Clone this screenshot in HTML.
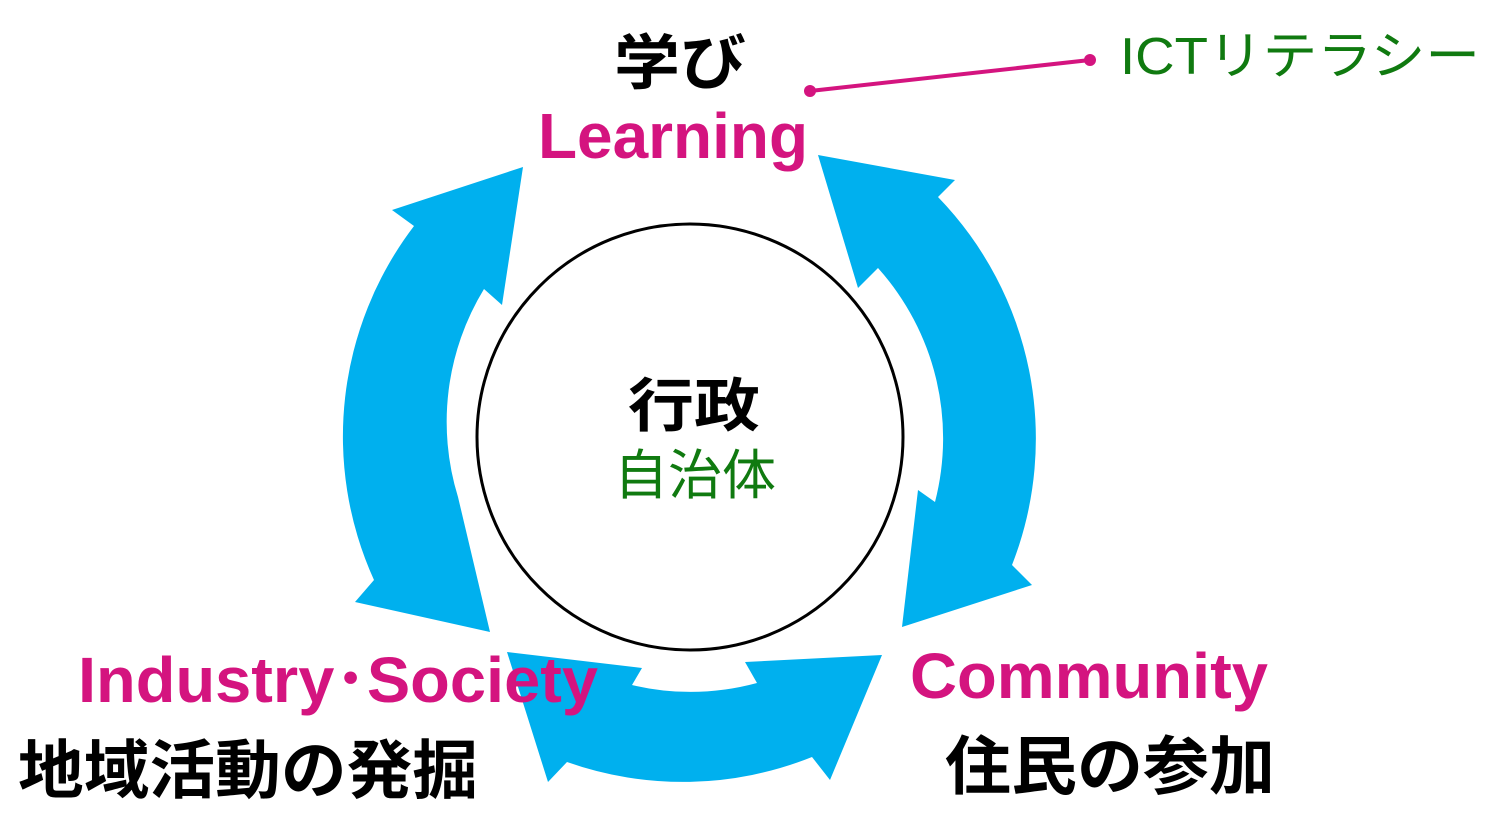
<!DOCTYPE html>
<html><head><meta charset="utf-8"><style>
html,body{margin:0;padding:0;background:#fff;}
svg{display:block;}
</style></head><body>
<svg width="1496" height="816" viewBox="0 0 1496 816" xmlns="http://www.w3.org/2000/svg">
<g fill="#00b0ee">
<path d="M523,167 L392,210 L414,226 A347,347 0 0 0 374,580 L355,602 L490,632 L458,497 A255,255 0 0 1 484,289 L502,305 Z"/>
<path d="M818,155 L955,180 L938,197 A347,347 0 0 1 1012,565 L1032,585 L902,627 L918,490 L935,502 A255,255 0 0 0 878,268 L858,288 Z"/>
<path d="M507,652 L642,668 L632,685 A255,255 0 0 0 757,683 L745,662 L882,655 L830,780 L812,757 A347,347 0 0 1 567,762 L548,782 Z"/>
</g>
<circle cx="690" cy="437" r="213" fill="#fff" stroke="#000" stroke-width="3"/>
<line x1="810" y1="91" x2="1090" y2="60" stroke="#d4147f" stroke-width="4"/>
<circle cx="810" cy="91" r="6" fill="#d4147f"/>
<circle cx="1090" cy="60" r="6" fill="#d4147f"/>
<g font-family="'Liberation Sans','Noto Sans CJK JP',sans-serif">
<text x="614" y="84" font-size="60" font-weight="bold" fill="#000" textLength="132" lengthAdjust="spacingAndGlyphs">学び</text>
<text x="538" y="158" font-size="64" font-weight="bold" fill="#d4147f" textLength="270" lengthAdjust="spacingAndGlyphs">Learning</text>
<text x="1120" y="74" font-size="52" fill="#107a10" textLength="360" lengthAdjust="spacingAndGlyphs">ICTリテラシー</text>
<text x="628" y="426" font-size="58" font-weight="bold" fill="#000" textLength="132" lengthAdjust="spacingAndGlyphs">行政</text>
<text x="614" y="494" font-size="54" fill="#107a10" textLength="162" lengthAdjust="spacingAndGlyphs">自治体</text>
<text x="78" y="702" font-size="64" font-weight="bold" fill="#d4147f" textLength="520" lengthAdjust="spacingAndGlyphs">Industry･Society</text>
<text x="18" y="793" font-size="64" font-weight="bold" fill="#000" textLength="460" lengthAdjust="spacingAndGlyphs">地域活動の発掘</text>
<text x="910" y="698" font-size="64" font-weight="bold" fill="#d4147f" textLength="358" lengthAdjust="spacingAndGlyphs">Community</text>
<text x="945" y="789" font-size="64" font-weight="bold" fill="#000" textLength="330" lengthAdjust="spacingAndGlyphs">住民の参加</text>
</g>
</svg>
</body></html>
